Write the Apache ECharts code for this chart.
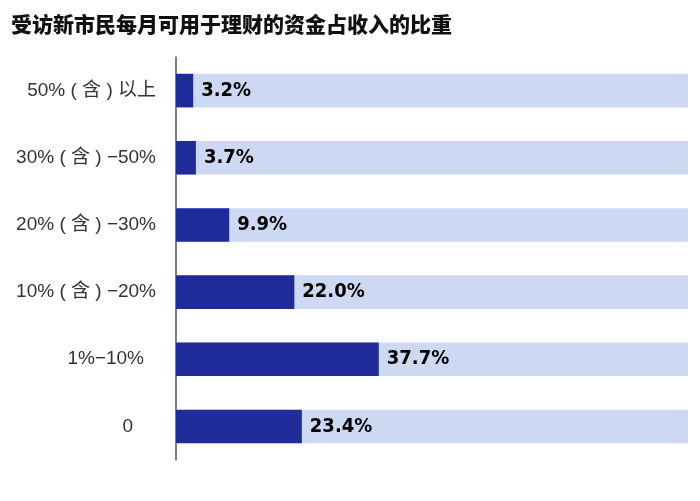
<!DOCTYPE html>
<html><head><meta charset="utf-8">
<script src="https://cdn.jsdelivr.net/npm/echarts@6/dist/echarts.min.js"></script>
<style>html,body{margin:0;padding:0;background:#fff}#c{width:700px;height:501px}</style>
</head><body><div id="c"></div>
<script>
var titleText = '受访新市民每月可用于理财的资金占收入的比重';
var categories = ['50% ( 含 ) 以上', '30% ( 含 ) −50%', '20% ( 含 ) −30%', '10% ( 含 ) −20%', '1%−10%', '0'];
var values = [3.2, 3.7, 9.9, 22.0, 37.7, 23.4];

var labelFont = "'Liberation Sans','Noto Sans CJK SC',sans-serif";
var chart = echarts.init(document.getElementById('c'));
chart.setOption({
  backgroundColor: '#ffffff',
  animation: false,
  title: {
    text: titleText, left: 6, top: 9,
    textStyle: { fontFamily: 'Noto Sans CJK SC', fontWeight: 900, fontSize: 21, color: '#111' }
  },
  grid: { left: 176, right: 12, top: 57, bottom: 41 },
  xAxis: { type: 'value', min: 0, max: 95.2, show: false },
  yAxis: {
    type: 'category', data: categories, inverse: true,
    axisLine: { show: true, lineStyle: { color: '#555', width: 1.5 } },
    axisTick: { show: false },
    axisLabel: {
      margin: 20, fontSize: 19, color: '#333', fontFamily: labelFont,
      formatter: function (v, i) { return i === 4 ? '{b|' + v + '}' : (i === 5 ? '{c|' + v + '}' : v); },
      rich: {
        b: { fontSize: 19, color: '#333', fontFamily: labelFont, padding: [0, 12, 0, 0] },
        c: { fontSize: 19, color: '#333', fontFamily: labelFont, padding: [0, 23, 0, 0] }
      }
    }
  },
  series: [{
    type: 'bar', data: values, barCategoryGap: '50%',
    itemStyle: { color: '#202b9b' },
    showBackground: true,
    backgroundStyle: { color: '#cdd9f2' },
    label: {
      show: true, position: 'right', distance: 8,
      formatter: function (p) { return p.value.toFixed(1) + '%'; },
      fontFamily: "'DejaVu Sans Condensed','DejaVu Sans',sans-serif", fontWeight: 'bold', fontSize: 20, color: '#000'
    }
  }]
});
</script></body></html>
